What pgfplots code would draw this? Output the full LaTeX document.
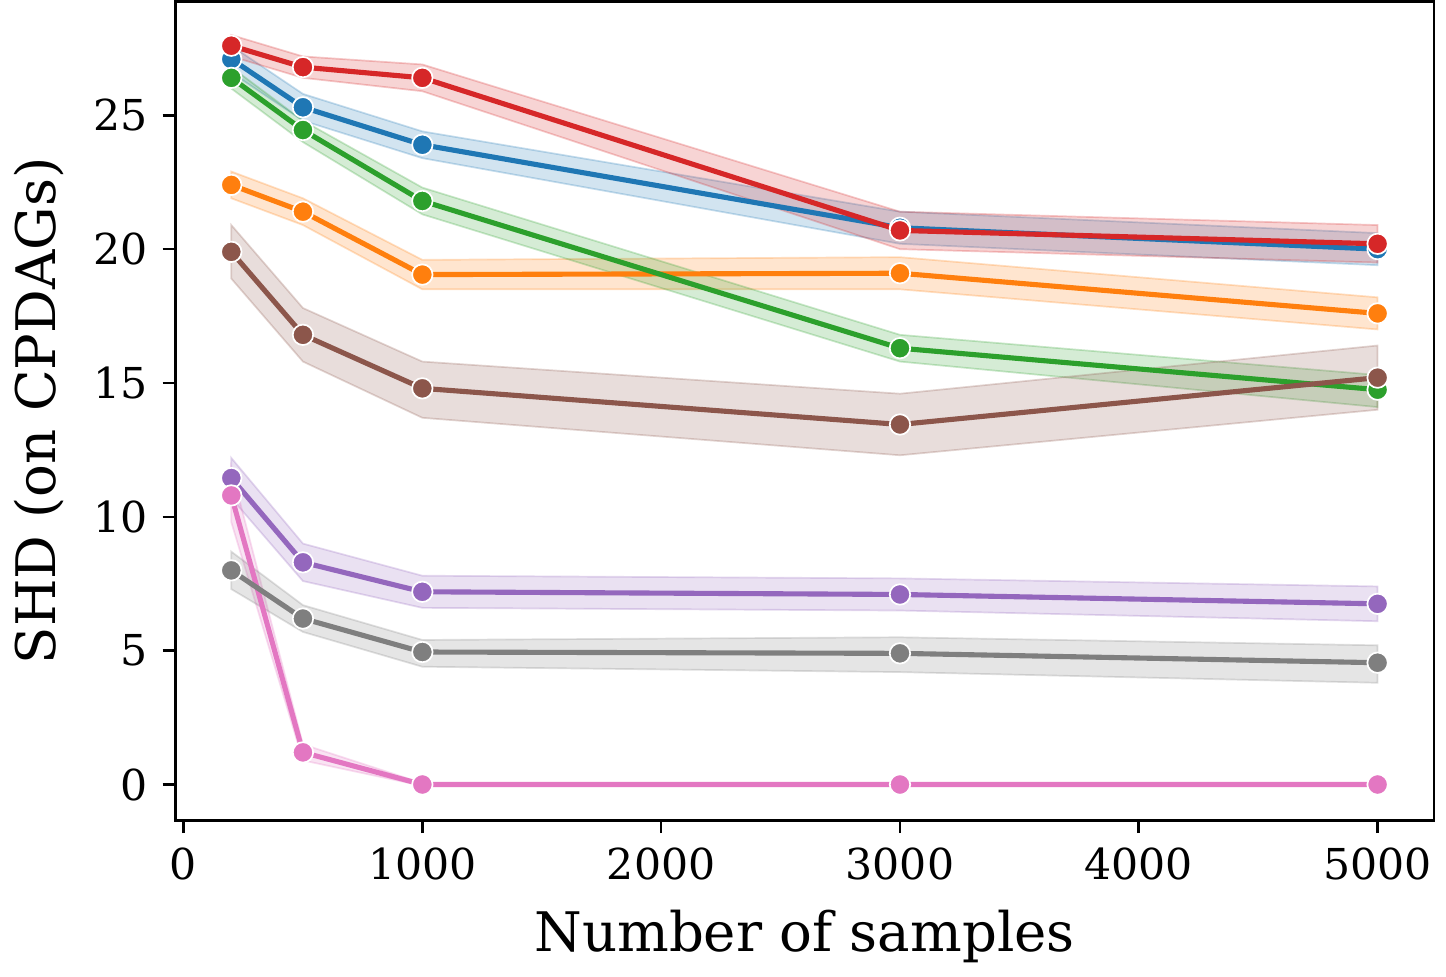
\documentclass[border=0pt]{standalone}
\usepackage{pgfplots}
\pgfplotsset{compat=1.18}
\usepackage{fontspec}
\setmainfont{DejaVu Serif}
\definecolor{cb}{HTML}{1F77B4}\definecolor{co}{HTML}{FF7F0E}\definecolor{cg}{HTML}{2CA02C}\definecolor{cr}{HTML}{D62728}
\definecolor{cp}{HTML}{9467BD}\definecolor{cn}{HTML}{8C564B}\definecolor{ck}{HTML}{E377C2}\definecolor{cy}{HTML}{7F7F7F}
\newcommand{\band}[2]{\addplot[fill=#1, fill opacity=0.2, draw=#1, draw opacity=0.25, line width=0.4pt, forget plot] coordinates {#2} -- cycle;}
\newcommand{\ser}[2]{\addplot[color=#1, line width=1.2pt, mark=*, mark size=2.4pt, mark options={fill=#1, draw=white, line width=0.4pt}] coordinates {#2};}
\begin{document}
\begin{tikzpicture}
\begin{axis}[scale only axis, width=4.087in, height=2.66in,
 xmin=-34, xmax=5236, ymin=-1.34, ymax=29.26,
 xtick={0,1000,2000,3000,4000,5000}, ytick={0,5,10,15,20,25},
 scaled x ticks=false, xticklabel style={/pgf/number format/1000 sep={}},
 /pgf/number format/assume math mode=true,
 tick label style={font=\fontsize{10}{12}\selectfont}, label style={font=\fontsize{12.8}{15}\selectfont},
 tick align=outside, tick style={black, line width=0.6pt}, major tick length=3pt,
 xtick pos=bottom, ytick pos=left,
 xlabel={Number of samples}, ylabel={SHD (on CPDAGs)}, axis line style={line width=0.6pt}]
\band{cb}{(200,27.6)(500,25.8)(1000,24.4)(3000,21.4)(5000,20.6)(5000,19.4)(3000,20.2)(1000,23.4)(500,24.8)(200,26.6)}
\band{co}{(200,22.9)(500,21.9)(1000,19.6)(3000,19.7)(5000,18.2)(5000,17.0)(3000,18.5)(1000,18.5)(500,20.9)(200,21.9)}
\band{cg}{(200,26.8)(500,24.8)(1000,22.3)(3000,16.8)(5000,15.3)(5000,14.1)(3000,15.8)(1000,21.3)(500,24.0)(200,26.0)}
\band{cr}{(200,28.0)(500,27.2)(1000,26.9)(3000,21.4)(5000,20.9)(5000,19.5)(3000,20.0)(1000,25.9)(500,26.4)(200,27.2)}
\band{cp}{(200,12.2)(500,9.0)(1000,7.8)(3000,7.7)(5000,7.4)(5000,6.1)(3000,6.5)(1000,6.6)(500,7.6)(200,10.7)}
\band{cn}{(200,20.9)(500,17.8)(1000,15.8)(3000,14.6)(5000,16.4)(5000,14.0)(3000,12.3)(1000,13.7)(500,15.8)(200,18.9)}
\band{ck}{(200,11.8)(500,1.5)(1000,0.05)(3000,0.05)(5000,0.05)(5000,-0.05)(3000,-0.05)(1000,-0.05)(500,0.9)(200,9.8)}
\band{cy}{(200,8.7)(500,6.7)(1000,5.4)(3000,5.5)(5000,5.2)(5000,3.8)(3000,4.2)(1000,4.4)(500,5.7)(200,7.3)}
\ser{cb}{(200,27.1)(500,25.3)(1000,23.9)(3000,20.8)(5000,20.0)}
\ser{co}{(200,22.4)(500,21.4)(1000,19.05)(3000,19.1)(5000,17.6)}
\ser{cg}{(200,26.4)(500,24.45)(1000,21.8)(3000,16.3)(5000,14.75)}
\ser{cr}{(200,27.6)(500,26.8)(1000,26.4)(3000,20.7)(5000,20.2)}
\ser{cp}{(200,11.45)(500,8.3)(1000,7.2)(3000,7.1)(5000,6.75)}
\ser{cn}{(200,19.9)(500,16.8)(1000,14.8)(3000,13.45)(5000,15.2)}
\ser{ck}{(200,10.8)(500,1.2)(1000,0)(3000,0)(5000,0)}
\ser{cy}{(200,8.0)(500,6.2)(1000,4.95)(3000,4.9)(5000,4.55)}
\end{axis}
\end{tikzpicture}
\end{document}
